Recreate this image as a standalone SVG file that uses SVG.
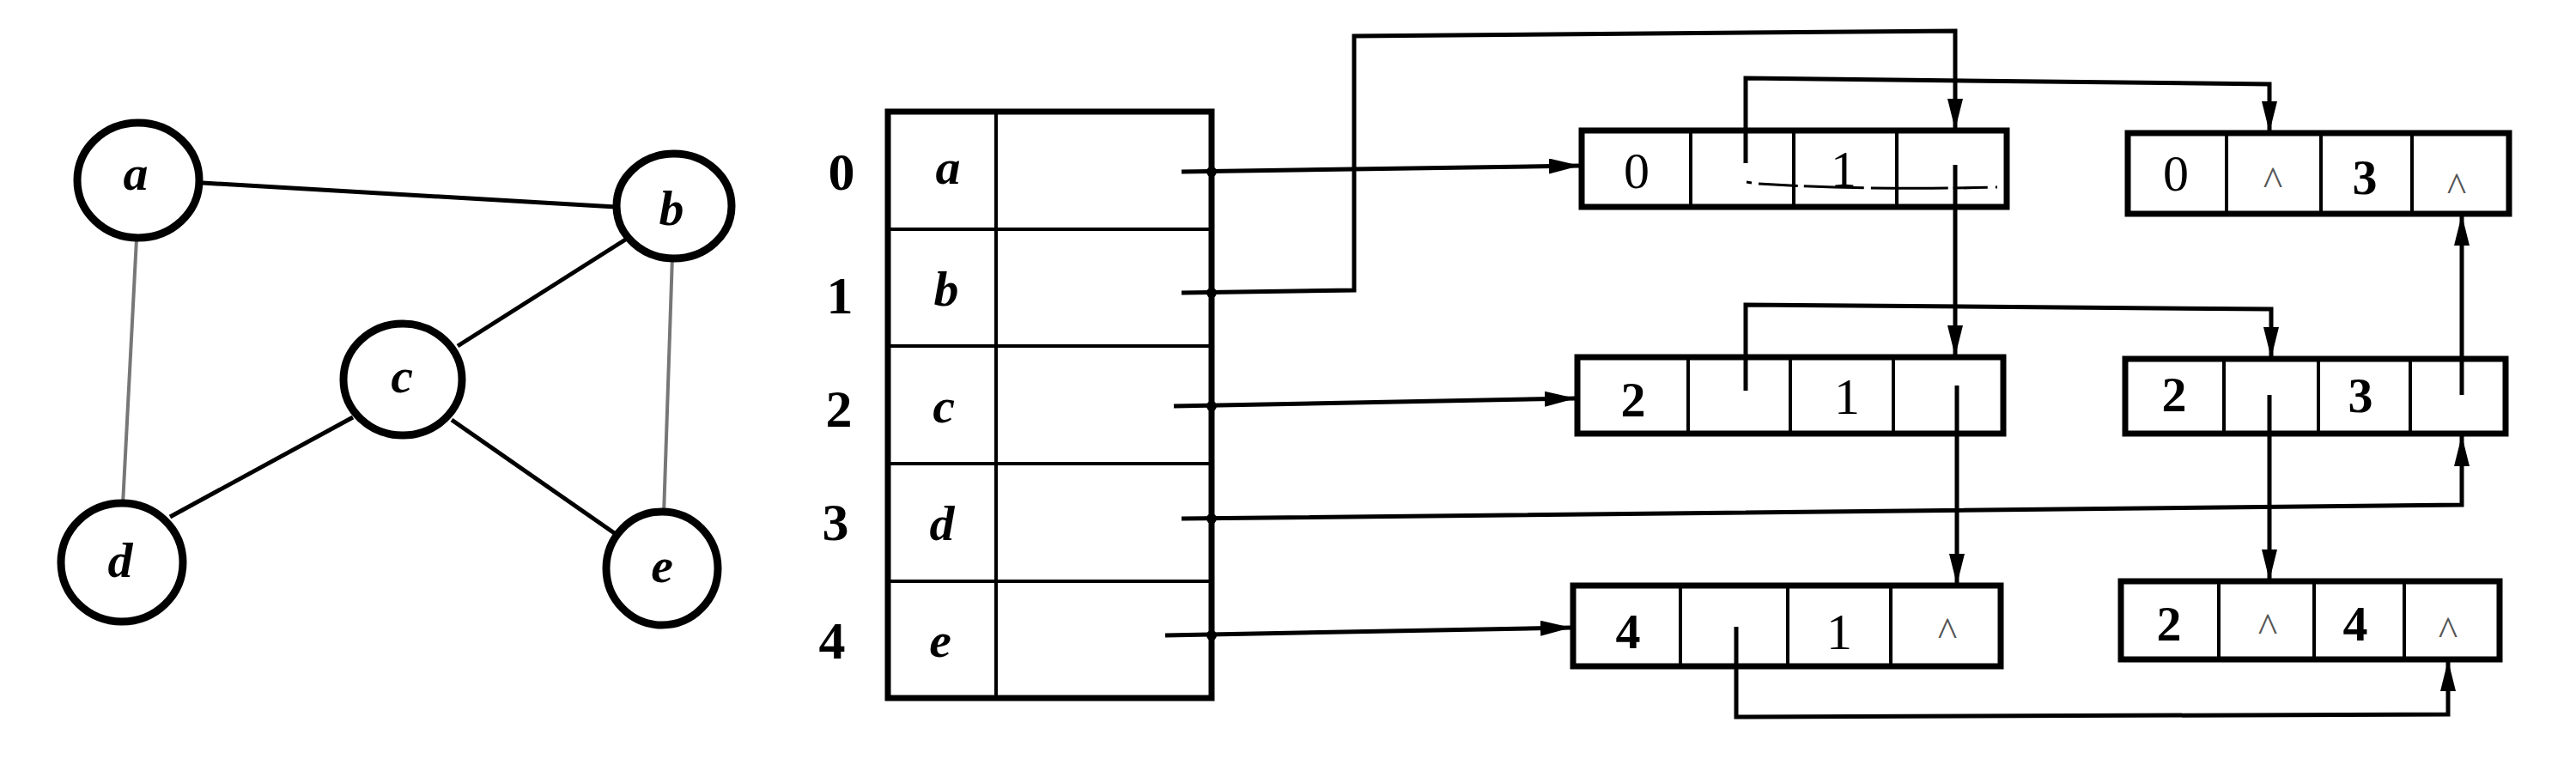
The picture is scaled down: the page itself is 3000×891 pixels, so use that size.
<svg xmlns="http://www.w3.org/2000/svg" width="3000" height="891" viewBox="0 0 3000 891">
<style>
.node{fill:none;stroke:#000;stroke-width:9}
.edge{stroke:#000;stroke-width:5;fill:none}
.edge2{stroke:#777;stroke-width:4;fill:none}
.lbl{font-family:"Liberation Serif",serif;font-style:italic;font-weight:bold;font-size:58px;text-anchor:middle;fill:#000}
.idx{font-family:"Liberation Serif",serif;font-weight:bold;font-size:62px;text-anchor:middle;fill:#000}
.box{fill:none;stroke:#000;stroke-width:7}
.div{stroke:#000;stroke-width:4}
.num{font-family:"Liberation Serif",serif;font-size:60px;text-anchor:middle;fill:#000}
.numb{font-family:"Liberation Serif",serif;font-weight:bold;font-size:58px;text-anchor:middle;fill:#000}
.nil{font-family:"Liberation Serif",serif;font-size:48px;text-anchor:middle;fill:#555}
.link{fill:none;stroke:#000;stroke-width:5}
.arr{fill:none;stroke:#000;stroke-width:5;marker-end:url(#ah)}
</style>
<defs>
<marker id="ah" markerUnits="userSpaceOnUse" markerWidth="40" markerHeight="20" refX="36" refY="9" orient="auto">
<path d="M0,0 L36,9 L0,18 Z" fill="#000"/>
</marker>
</defs>
<rect width="3000" height="891" fill="#fff"/>

<g id="graph-edges">
<line class="edge" x1="236" y1="213" x2="717" y2="241"/>
<line class="edge2" x1="159" y1="278" x2="143" y2="588"/>
<line class="edge" x1="730" y1="278" x2="533" y2="403"/>
<line class="edge" x1="411" y1="486" x2="198" y2="602"/>
<line class="edge" x1="526" y1="489" x2="717" y2="622"/>
<line class="edge2" x1="783" y1="298" x2="773" y2="600"/>
</g>
<g id="node-a"><ellipse class="node" cx="161" cy="210" rx="71" ry="67"/><text class="lbl" x="158" y="221">a</text></g>
<g id="node-b"><ellipse class="node" cx="785" cy="240" rx="67" ry="61"/><text class="lbl" x="782" y="262">b</text></g>
<g id="node-c"><ellipse class="node" cx="469" cy="442" rx="69" ry="65"/><text class="lbl" x="468" y="457">c</text></g>
<g id="node-d"><ellipse class="node" cx="142" cy="655" rx="71" ry="69"/><text class="lbl" x="140" y="672">d</text></g>
<g id="node-e"><ellipse class="node" cx="771" cy="662" rx="65" ry="66"/><text class="lbl" x="771" y="678">e</text></g>

<g id="vertex-table">
<rect class="box" x="1034" y="130" width="377" height="683"/>
<line class="div" x1="1160" y1="130" x2="1160" y2="813"/>
<line class="div" x1="1034" y1="267" x2="1411" y2="267"/>
<line class="div" x1="1034" y1="403" x2="1411" y2="403"/>
<line class="div" x1="1034" y1="540" x2="1411" y2="540"/>
<line class="div" x1="1034" y1="677" x2="1411" y2="677"/>
<text class="idx" x="980" y="221">0</text>
<text class="idx" x="978" y="365">1</text>
<text class="idx" x="977" y="497">2</text>
<text class="idx" x="973" y="629">3</text>
<text class="idx" x="969" y="767">4</text>
<text class="lbl" x="1104" y="214">a</text>
<text class="lbl" x="1102" y="356">b</text>
<text class="lbl" x="1099" y="492">c</text>
<text class="lbl" x="1097" y="629">d</text>
<text class="lbl" x="1095" y="765">e</text>
</g>

<g id="edge-0-1">
<rect class="box" x="1842" y="152" width="495" height="89"/>
<line class="div" x1="1969" y1="152" x2="1969" y2="241"/>
<line class="div" x1="2089" y1="152" x2="2089" y2="241"/>
<line class="div" x1="2209" y1="152" x2="2209" y2="241"/>
<text class="num" x="1906" y="219">0</text>
<text class="num" x="2147" y="217">1</text>
<path d="M2034,212 L2040,213 M2048,214 Q2180,222 2326,218" fill="none" stroke="#000" stroke-width="3" stroke-dasharray="46 7 70 8 90 6 40 9"/>
</g>
<g id="edge-0-3">
<rect class="box" x="2478" y="155" width="444" height="94"/>
<line class="div" x1="2593" y1="155" x2="2593" y2="249"/>
<line class="div" x1="2703" y1="155" x2="2703" y2="249"/>
<line class="div" x1="2809" y1="155" x2="2809" y2="249"/>
<text class="num" x="2534" y="222">0</text>
<text class="nil" x="2647" y="227">^</text>
<text class="numb" x="2754" y="226">3</text>
<text class="nil" x="2861" y="234">^</text>
</g>
<g id="edge-2-1">
<rect class="box" x="1837" y="416" width="496" height="89"/>
<line class="div" x1="1966" y1="416" x2="1966" y2="505"/>
<line class="div" x1="2085" y1="416" x2="2085" y2="505"/>
<line class="div" x1="2205" y1="416" x2="2205" y2="505"/>
<text class="numb" x="1902" y="485">2</text>
<text class="num" x="2151" y="482">1</text>
</g>
<g id="edge-2-3">
<rect class="box" x="2475" y="418" width="443" height="87"/>
<line class="div" x1="2590" y1="418" x2="2590" y2="505"/>
<line class="div" x1="2700" y1="418" x2="2700" y2="505"/>
<line class="div" x1="2807" y1="418" x2="2807" y2="505"/>
<text class="numb" x="2532" y="479">2</text>
<text class="numb" x="2749" y="480">3</text>
</g>
<g id="edge-4-1">
<rect class="box" x="1832" y="682" width="498" height="94"/>
<line class="div" x1="1957" y1="682" x2="1957" y2="776"/>
<line class="div" x1="2082" y1="682" x2="2082" y2="776"/>
<line class="div" x1="2202" y1="682" x2="2202" y2="776"/>
<text class="numb" x="1896" y="755">4</text>
<text class="num" x="2142" y="756">1</text>
<text class="nil" x="2268" y="752">^</text>
</g>
<g id="edge-2-4">
<rect class="box" x="2470" y="677" width="441" height="91"/>
<line class="div" x1="2584" y1="677" x2="2584" y2="768"/>
<line class="div" x1="2695" y1="677" x2="2695" y2="768"/>
<line class="div" x1="2800" y1="677" x2="2800" y2="768"/>
<text class="numb" x="2526" y="746">2</text>
<text class="nil" x="2641" y="747">^</text>
<text class="numb" x="2743" y="746">4</text>
<text class="nil" x="2851" y="751">^</text>
</g>

<g id="connectors">
<path class="arr" d="M1376,200 L1840,193"/>
<path class="arr" d="M1376,341 L1577,338 L1577,42 L2277,36 L2277,151"/>
<path class="arr" d="M1367,473 L1835,464"/>
<path class="arr" d="M1376,604 L2867,588 L2867,507"/>
<path class="arr" d="M1357,740 L1830,731"/>
<path class="arr" d="M2033,190 L2033,91 L2643,98 L2643,154"/>
<path class="arr" d="M2277,192 L2277,415"/>
<path class="arr" d="M2033,455 L2033,355 L2645,360 L2645,417"/>
<path class="arr" d="M2279,449 L2279,681"/>
<path class="arr" d="M2643,460 L2643,676"/>
<path class="arr" d="M2867,460 L2867,250"/>
<path class="arr" d="M2022,730 L2022,835 L2851,832 L2851,769"/>
<circle cx="1411" cy="200" r="6"/>
<circle cx="1411" cy="341" r="6"/>
<circle cx="1411" cy="473" r="6"/>
<circle cx="1411" cy="604" r="6"/>
<circle cx="1411" cy="740" r="6"/>
</g>
</svg>
